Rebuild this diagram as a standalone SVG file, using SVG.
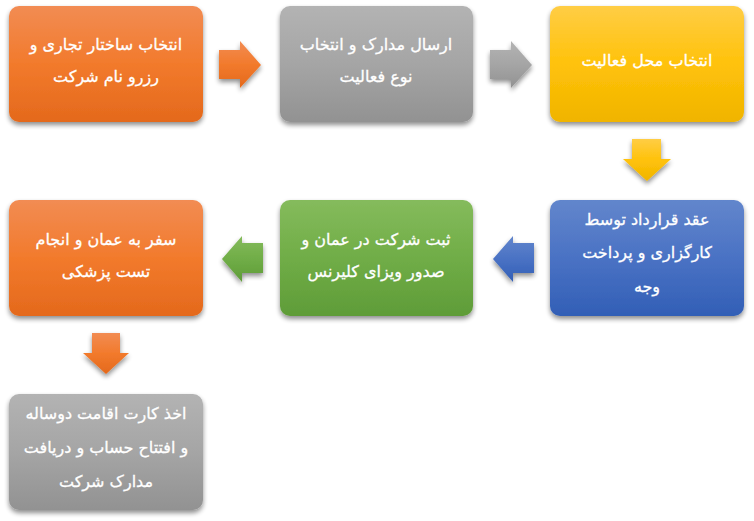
<svg xmlns="http://www.w3.org/2000/svg" width="754" height="521" viewBox="0 0 754 521">
<defs>
<linearGradient id="gO" x1="0" y1="0" x2="0" y2="1"><stop offset="0" stop-color="#f28c53"/><stop offset="0.5" stop-color="#f27a2c"/><stop offset="1" stop-color="#e4691c"/></linearGradient>
<linearGradient id="gG" x1="0" y1="0" x2="0" y2="1"><stop offset="0" stop-color="#b3b3b3"/><stop offset="0.5" stop-color="#a5a5a5"/><stop offset="1" stop-color="#929292"/></linearGradient>
<linearGradient id="gY" x1="0" y1="0" x2="0" y2="1"><stop offset="0" stop-color="#ffcd45"/><stop offset="0.5" stop-color="#ffc20a"/><stop offset="1" stop-color="#f0b400"/></linearGradient>
<linearGradient id="gB" x1="0" y1="0" x2="0" y2="1"><stop offset="0" stop-color="#6286cc"/><stop offset="0.5" stop-color="#4a72c4"/><stop offset="1" stop-color="#325fb6"/></linearGradient>
<linearGradient id="gN" x1="0" y1="0" x2="0" y2="1"><stop offset="0" stop-color="#85bb5c"/><stop offset="0.5" stop-color="#70ad47"/><stop offset="1" stop-color="#5f9c38"/></linearGradient>
<filter id="sh" x="-10%" y="-10%" width="120%" height="130%"><feGaussianBlur in="SourceAlpha" stdDeviation="2.5"/><feOffset dx="0" dy="3"/><feComponentTransfer><feFuncA type="linear" slope="0.45"/></feComponentTransfer><feMerge><feMergeNode/><feMergeNode in="SourceGraphic"/></feMerge></filter>
</defs>
<style>
.box{filter:url(#sh)}
.t{font-family:"DejaVu Sans","Noto Sans",sans-serif;font-size:16px;font-weight:normal;fill:#ffffff;stroke:#ffffff;stroke-width:0.3;text-anchor:middle;direction:rtl}
</style>
<rect width="754" height="521" fill="#ffffff"/>
<g id="connectors">
<path class="box" d="M219,50 H240 V41 L261,65 L240,88 V79 H219 Z" fill="url(#gO)"/>
<path class="box" d="M490,50 H511 V41 L532,65 L511,88 V79 H490 Z" fill="url(#gG)"/>
<path class="box" d="M632,139 H661 V159 H671 L647,181 L623,159 H632 Z" fill="url(#gY)"/>
<path class="box" d="M534,243 H513 V236 L493,259 L513,282 V273 H534 Z" fill="url(#gB)"/>
<path class="box" d="M263,243 H242 V236 L222,259 L242,282 V273 H263 Z" fill="url(#gN)"/>
<path class="box" d="M92,333 H120 V353 H129 L106,374 L83,353 H92 Z" fill="url(#gO)"/>
</g>
<g id="n1"><rect class="box" x="9" y="6" width="194" height="116" rx="10" fill="url(#gO)"/>
<text class="t" x="106" y="50">انتخاب ساختار تجاری و</text><text class="t" x="106" y="82">رزرو نام شرکت</text></g>
<g id="n2"><rect class="box" x="280" y="6" width="193" height="116" rx="10" fill="url(#gG)"/>
<text class="t" x="376" y="50">ارسال مدارک و انتخاب</text><text class="t" x="376" y="82">نوع فعالیت</text></g>
<g id="n3"><rect class="box" x="550" y="6" width="194" height="116" rx="10" fill="url(#gY)"/>
<text class="t" x="647" y="66">انتخاب محل فعالیت</text></g>
<g id="n4"><rect class="box" x="550" y="200" width="194" height="116" rx="10" fill="url(#gB)"/>
<text class="t" x="647" y="225">عقد قرارداد توسط</text><text class="t" x="647" y="258">کارگزاری و پرداخت</text><text class="t" x="647" y="292">وجه</text></g>
<g id="n5"><rect class="box" x="280" y="200" width="193" height="116" rx="10" fill="url(#gN)"/>
<text class="t" x="376" y="245">ثبت شرکت در عمان و</text><text class="t" x="376" y="277">صدور ویزای کلیرنس</text></g>
<g id="n6"><rect class="box" x="9" y="200" width="194" height="116" rx="10" fill="url(#gO)"/>
<text class="t" x="106" y="245">سفر به عمان و انجام</text><text class="t" x="106" y="277">تست پزشکی</text></g>
<g id="n7"><rect class="box" x="9" y="394" width="194" height="116" rx="10" fill="url(#gG)"/>
<text class="t" x="106" y="419">اخذ کارت اقامت دوساله</text><text class="t" x="106" y="453">و افتتاح حساب و دریافت</text><text class="t" x="106" y="487">مدارک شرکت</text></g>
</svg>
